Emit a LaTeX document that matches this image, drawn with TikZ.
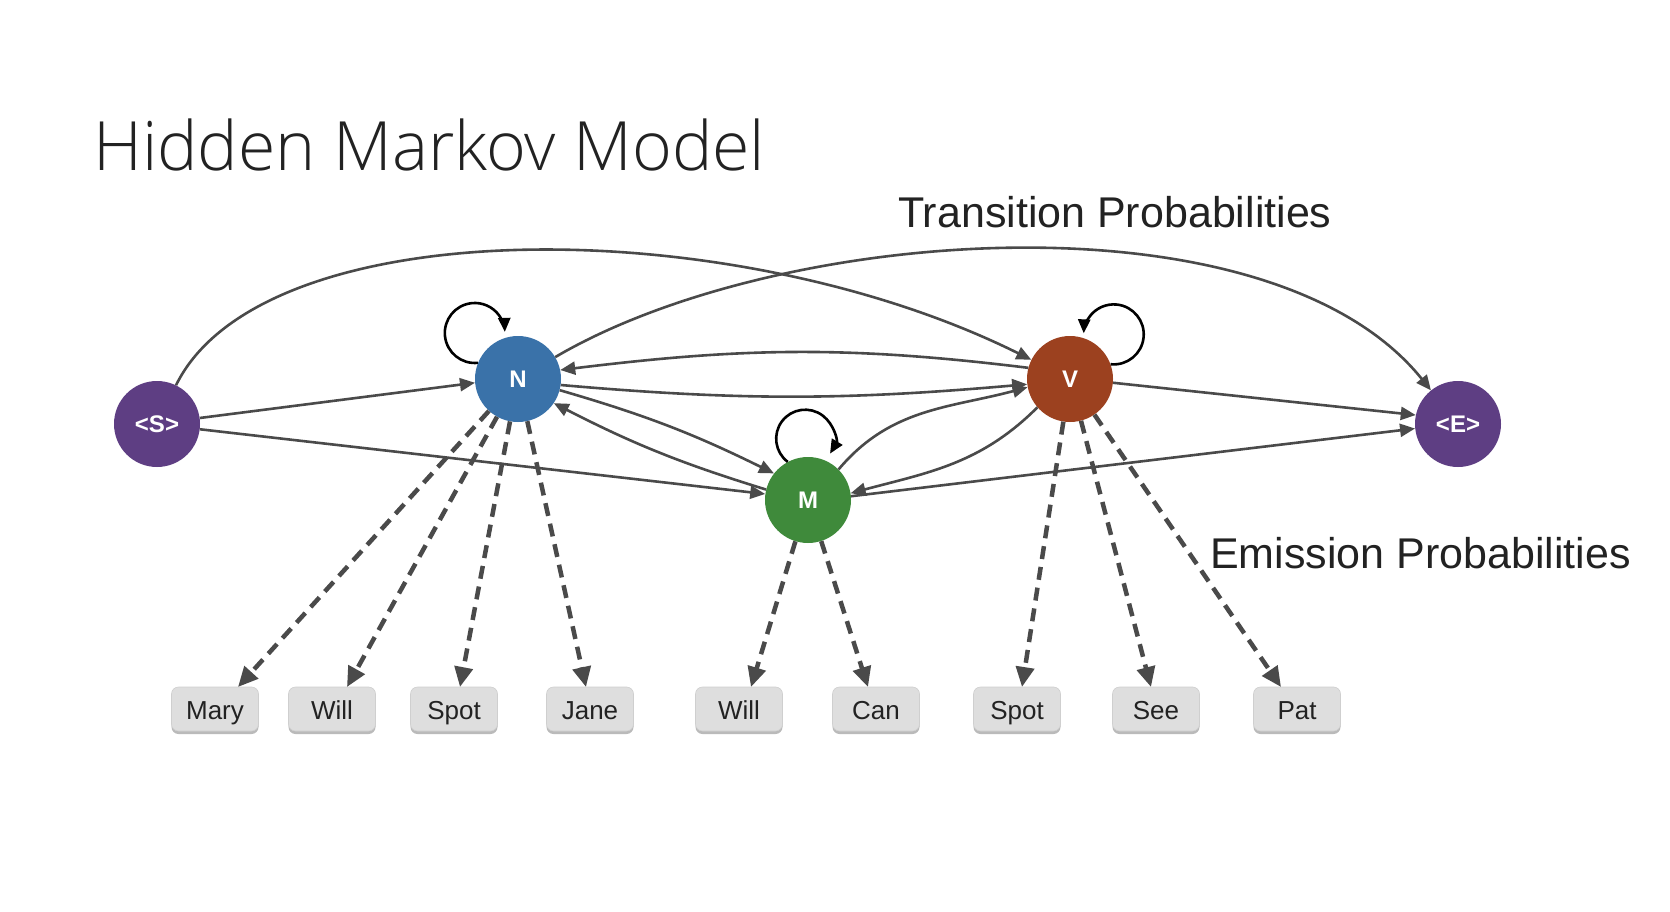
\documentclass[tikz,border=0pt]{standalone}
\usepackage{fontspec}
\setmainfont{Liberation Sans}
\IfFontExistsTF{Open Sans Light}{\newfontfamily\titlefont{Open Sans Light}}{\newfontfamily\titlefont{Open Sans}}
\usetikzlibrary{arrows.meta,shadows}
\definecolor{cpurple}{HTML}{5E3E83}
\definecolor{cblue}{HTML}{3A72A9}
\definecolor{crust}{HTML}{9C411F}
\definecolor{cgreen}{HTML}{3F8A3B}
\definecolor{cline}{HTML}{4A4A4A}
\definecolor{ctext}{HTML}{222222}
\definecolor{cbox}{HTML}{DEDEDE}
\definecolor{cboxline}{HTML}{CFCFCF}
\begin{document}
\begin{tikzpicture}[x=1pt,y=1pt,
  state/.style={circle, minimum size=86pt, inner sep=0pt, text=white,
    font=\fontsize{24}{26}\selectfont\bfseries},
  word/.style={rectangle, rounded corners=7pt, minimum width=87pt, minimum height=44pt,
    inner sep=0pt, text height=20pt, text depth=0pt, fill=cbox, draw=cboxline,
    line width=0.6pt, text=ctext, font=\fontsize{26}{28}\selectfont,
    drop shadow={shadow xshift=0pt, shadow yshift=-3pt, fill=black!45, opacity=0.6}},
  trans/.style={draw=cline, line width=2.6pt, -{Triangle[length=15pt,width=13pt]}},
  emit/.style={draw=cline, line width=4.5pt, dash pattern=on 13pt off 8pt,
    -{Triangle[length=20pt,width=18pt]}},
  selfloop/.style={draw=black, line width=2.6pt, -{Triangle[length=14pt,width=12pt]}},
  label/.style={anchor=base west, inner sep=0pt, text=ctext}
]
\useasboundingbox (0,0) rectangle (1670,-912);
\fill[white] (0,0) rectangle (1670,-912);

% title and labels
\node[label, font=\titlefont\fontsize{68}{80}\selectfont] (title) at (93,-171) {Hidden Markov Model};
\node[label, font=\fontsize{43}{50}\selectfont] (translabel) at (898,-227) {Transition Probabilities};
\node[label, font=\fontsize{43}{50}\selectfont] (emitlabel) at (1210,-568) {Emission Probabilities};

% word boxes
\node[word] (b1) at (215,-709) {Mary};
\node[word] (b2) at (332,-709) {Will};
\node[word] (b3) at (454,-709) {Spot};
\node[word] (b4) at (590,-709) {Jane};
\node[word] (b5) at (739,-709) {Will};
\node[word] (b6) at (876,-709) {Can};
\node[word] (b7) at (1017,-709) {Spot};
\node[word] (b8) at (1156,-709) {See};
\node[word] (b9) at (1297,-709) {Pat};

% states
\node[state, fill=cpurple] (S) at (157,-424) {<S>};
\node[state, fill=cblue] (N) at (518,-379) {N};
\node[state, fill=cgreen] (M) at (808,-500) {M};
\node[state, fill=crust] (V) at (1070,-379) {V};
\node[state, fill=cpurple] (E) at (1458,-424) {<E>};

% emission arrow ends
\coordinate (t1) at (238,-687);
\coordinate (t2) at (347,-687);
\coordinate (t3) at (460,-687);
\coordinate (t4) at (586,-687);
\coordinate (t5) at (751,-687);
\coordinate (t6) at (868,-687);
\coordinate (t7) at (1022,-687);
\coordinate (t8) at (1151,-687);
\coordinate (t9) at (1281,-687);

\draw[emit] (N) -- (t1);
\draw[emit] (N) -- (t2);
\draw[emit] (N) -- (t3);
\draw[emit] (N) -- (t4);
\draw[emit] (M) -- (t5);
\draw[emit] (M) -- (t6);
\draw[emit] (V) -- (t7);
\draw[emit] (V) -- (t8);
\draw[emit] (V) -- (t9);

% transitions
\draw[trans] (S) .. controls (262,-210) and (730,-210) .. (V);
\draw[trans] (N) .. controls (780,-225) and (1270,-190) .. (E);
\draw[trans] (S.8) -- (N.185);
\draw[trans] (S.-7) -- (M.172);
\draw[trans] (V.165) to[out=173, in=7] (N.12);
\draw[trans] (N.-8) to[out=-5, in=185] (V.187);
\draw[trans] (N.-15) to[bend left=5] (M.142);
\draw[trans] (M.166) to[bend left=5] (N.-34);
\draw[trans] (M.45) to[out=50, in=195] (V.191);
\draw[trans] (V.221) to[out=225, in=15] (M.9);
\draw[trans] (V.-5) -- (E.168);
\draw[trans] (M.5) -- (E.186);

% self loops
\draw[selfloop] (N.158) arc[start angle=-84, end angle=-358, radius=30];
\draw[selfloop] (V.20) arc[start angle=264, end angle=538, radius=30];
\draw[selfloop] (M.118) arc[start angle=233, end angle=-31, radius=29];
\end{tikzpicture}
\end{document}
